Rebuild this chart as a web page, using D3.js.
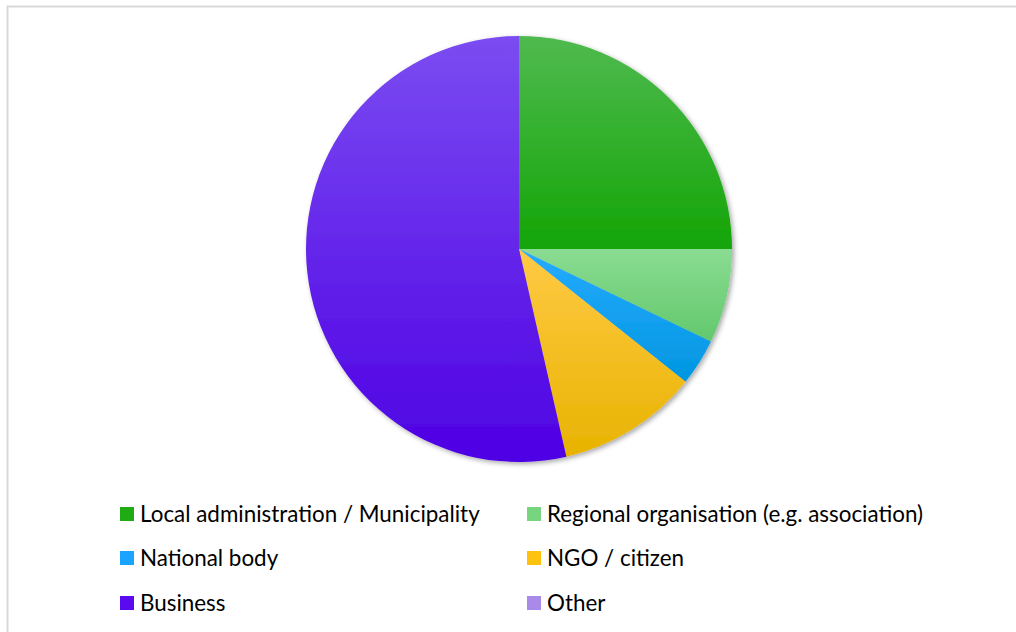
<!DOCTYPE html>
<html>
  <head>
    <meta charset="utf-8" />
    <script src="https://d3js.org/d3.v7.min.js"></script>
    <style>
      body { margin: 0; background: #fff; }
      svg { display: block; }
      .legend text { font-family: Lato, "Open Sans", sans-serif; font-size: 22.4px; fill: #000; }
    </style>
  </head>
  <body>
    <svg id="chart"></svg>
    <script>
      // Data
      var categories = [
        "Local administration / Municipality",
        "Regional organisation (e.g. association)",
        "National body",
        "NGO / citizen",
        "Business",
        "Other"
      ];
      var counts = [14, 4, 2, 6, 30, 0];

      // gradient colours per slice (top, bottom) and legend swatch colour
      var topColors = ["#4fba4f", "#8adc92", "#27abff", "#ffca45", "#7b4cf1", "#b69af0"];
      var bottomColors = ["#14a507", "#62c86c", "#0096e0", "#e8b300", "#4e00e4", "#9a78e2"];
      var swatchColors = ["#1fab14", "#78d57f", "#1aa3ff", "#fec20f", "#5a0aee", "#a98ae8"];

      var width = 1016;
      var height = 632;
      var cx = 519, cy = 249, radius = 213;

      var svg = d3.select("#chart").attr("width", width).attr("height", height);

      // chart frame (light gray)
      svg.append("path")
        .attr("d", "M7.5," + height + "V6.5H" + width)
        .attr("fill", "none")
        .attr("stroke", "#d9d9d9")
        .attr("stroke-width", 2);

      var defs = svg.append("defs");

      var shadow = defs.append("filter")
        .attr("id", "shadow")
        .attr("x", "-10%").attr("y", "-10%")
        .attr("width", "120%").attr("height", "120%");
      shadow.append("feDropShadow")
        .attr("dx", 2).attr("dy", 2)
        .attr("stdDeviation", 2.5)
        .attr("flood-color", "#000")
        .attr("flood-opacity", 0.35);

      categories.forEach(function (c, i) {
        var g = defs.append("linearGradient")
          .attr("id", "grad" + i)
          .attr("x1", 0).attr("y1", 0).attr("x2", 0).attr("y2", 1);
        g.append("stop").attr("offset", "0%").attr("stop-color", topColors[i]);
        g.append("stop").attr("offset", "100%").attr("stop-color", bottomColors[i]);
      });

      var pie = d3.pie().sort(null).value(function (d) { return d; });
      var arc = d3.arc().innerRadius(0).outerRadius(radius);

      var pieGroup = svg.append("g")
        .attr("transform", "translate(" + cx + "," + cy + ")")
        .attr("filter", "url(#shadow)");

      pieGroup.selectAll("path")
        .data(pie(counts))
        .join("path")
        .attr("d", arc)
        .attr("fill", function (d, i) { return "url(#grad" + i + ")"; });

      // Legend: two columns, three rows
      var colX = [120, 527];
      var rowY = [514, 558, 603];

      var legend = svg.append("g").attr("class", "legend");
      var items = legend.selectAll("g")
        .data(categories)
        .join("g")
        .attr("transform", function (d, i) {
          return "translate(" + colX[i % 2] + "," + rowY[Math.floor(i / 2)] + ")";
        });

      items.append("rect")
        .attr("x", 0).attr("y", -7)
        .attr("width", 14).attr("height", 14)
        .attr("fill", function (d, i) { return swatchColors[i]; });

      items.append("text")
        .attr("x", 20)
        .attr("y", 0)
        .attr("dy", "0.35em")
        .text(function (d) { return d; });
    </script>
  </body>
</html>
